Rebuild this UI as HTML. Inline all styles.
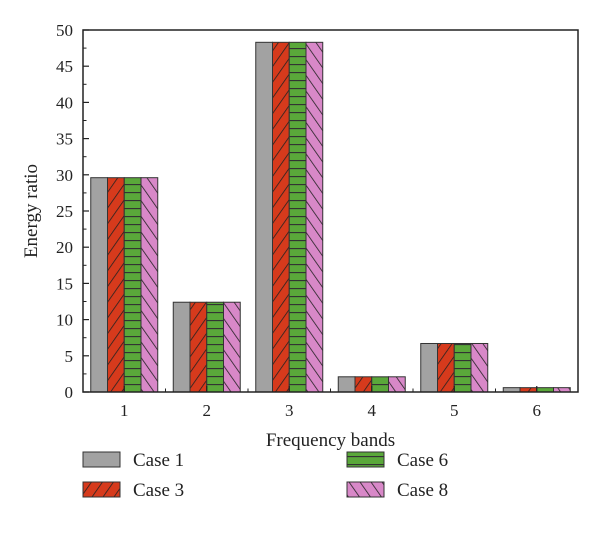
<!DOCTYPE html>
<html><head><meta charset="utf-8"><style>
body{margin:0;background:#fff}
svg text{font-family:"Liberation Serif",serif;fill:#222}
</style></head><body>
<svg id="c" width="600" height="548" viewBox="0 0 600 548">
<defs>
<pattern id="p3" patternUnits="userSpaceOnUse" width="9" height="9" patternTransform="rotate(35)"><rect width="9" height="9" fill="#d63a1c"/><line x1="0" y1="0" x2="0" y2="9" stroke="#222" stroke-width="1.6"/></pattern>
<pattern id="p6" patternUnits="userSpaceOnUse" width="9" height="8"><rect width="9" height="8" fill="#5aa83a"/><line x1="0" y1="0.5" x2="9" y2="0.5" stroke="#333" stroke-width="1.3"/></pattern>
<pattern id="p8" patternUnits="userSpaceOnUse" width="9" height="9" patternTransform="rotate(-35)"><rect width="9" height="9" fill="#d888c8"/><line x1="0" y1="0" x2="0" y2="9" stroke="#222" stroke-width="1.6"/></pattern>
</defs>
<g id="plot"></g>
</svg>
<script>
const categories=["1","2","3","4","5","6"];
const case1=[29.6,12.4,48.3,2.1,6.7,0.6];
const case3=[29.6,12.4,48.3,2.1,6.7,0.6];
const case6=[29.6,12.4,48.3,2.1,6.7,0.6];
const case8=[29.6,12.4,48.3,2.1,6.7,0.6];
const yTicks=[0,5,10,15,20,25,30,35,40,45,50];
const seriesNames=["Case 1","Case 3","Case 6","Case 8"];

const NS="http://www.w3.org/2000/svg";
const g=document.getElementById('plot');
const L=83,R=578,T=30,B=392,yMax=50;
const y=v=>B-(v/yMax)*(B-T);
const catW=(R-L)/categories.length;
const xc=i=>L+catW*(i+0.5);
const barW=16.75;
const fills=["#a2a2a2","url(#p3)","url(#p6)","url(#p8)"];
const series=[case1,case3,case6,case8];
function el(t,a){const e=document.createElementNS(NS,t);for(const k in a)e.setAttribute(k,a[k]);g.appendChild(e);return e;}

series.forEach((s,si)=>{
  s.forEach((v,i)=>{
    const r=el('rect',{x:xc(i)-2*barW+si*barW,y:y(v),width:barW,height:B-y(v),fill:fills[si],stroke:"#333","stroke-width":1});
    
    
  });
});
// frame
const f=el('rect',{x:L,y:T,width:R-L,height:B-T,fill:"none",stroke:"#222","stroke-width":1.5});


// y ticks
yTicks.forEach((t,i)=>{
  el('line',{x1:L,x2:L+6,y1:y(t),y2:y(t),stroke:"#222","stroke-width":1.2});
  if(i<yTicks.length-1)el('line',{x1:L,x2:L+3.5,y1:y(t+2.5),y2:y(t+2.5),stroke:"#222","stroke-width":1});
  const tx=el('text',{x:L-10,y:y(t)+6,"text-anchor":"end","font-size":17});
  tx.textContent=t;
  
  
});
// x ticks
categories.forEach((c,i)=>{
  el('line',{x1:xc(i),x2:xc(i),y1:B,y2:B-6,stroke:"#222","stroke-width":1.2});
  if(i>0)el('line',{x1:L+catW*i,x2:L+catW*i,y1:B,y2:B-3.5,stroke:"#222","stroke-width":1});
  const tx=el('text',{x:xc(i),y:B+24,"text-anchor":"middle","font-size":17});
  tx.textContent=c;
  
  
});
let t=el('text',{x:(L+R)/2,y:446,"text-anchor":"middle","font-size":19});
t.textContent="Frequency bands";


t=el('text',{x:0,y:0,"text-anchor":"middle","font-size":19,transform:`translate(37,${(T+B)/2}) rotate(-90)`});
t.textContent="Energy ratio";


// legend
const lx=[83,83,347,347],ly=[452,482,452,482];
const order=[0,1,2,3];
order.forEach((si,k)=>{
  const pos=[[83,452],[83,482],[347,452],[347,482]][k];
  const sw=el('rect',{x:pos[0],y:pos[1],width:37,height:15,fill:fills[si],stroke:"#333","stroke-width":1});
  
  
  const tx=el('text',{x:pos[0]+50,y:pos[1]+14,"font-size":19});
  tx.textContent=seriesNames[si];
  
  
});
</script>
</body></html>
